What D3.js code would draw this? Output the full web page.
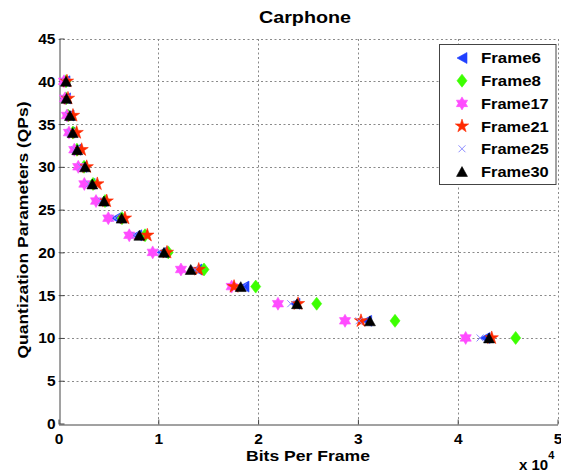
<!DOCTYPE html>
<html><head><meta charset="utf-8">
<script src="https://cdn.jsdelivr.net/npm/d3@7"></script>
<style>
body{margin:0;background:#fff}
text{font-family:"Liberation Sans",Arial,Helvetica,sans-serif;font-weight:bold;fill:#000}
</style>
</head><body>
<svg id="c" width="561" height="474"></svg>
<script>
// ---- data ----
const qps = [40,38,36,34,32,30,28,26,24,22,20,18,16,14,12,10];
const frame6  = [650,700,1050,1150,1750,2350,3160,4360,5760,7840,10370,13880,18590,23690,30880,42740];
const frame8  = [750,750,950,1450,1850,2560,3460,4660,6360,8670,11000,14580,19760,25870,33720,45810];
const frame17 = [550,650,850,1050,1580,1980,2590,3760,4990,7090,9440,12270,17350,21990,28710,40800];
const frame21 = [850,950,1450,1820,2320,2830,3890,4830,6660,8900,10870,14050,17590,24000,30310,43410];
const frame25 = [600,650,1000,1150,1650,2250,3060,4260,5660,7670,10270,13680,18490,23270,30110,42240];
const frame30 = [750,800,1150,1420,1880,2660,3390,4560,6330,8100,10570,13250,18260,23900,31210,43140];
const seriesNames = ["Frame6","Frame8","Frame17","Frame21","Frame25","Frame30"];
const seriesValues = [frame6, frame8, frame17, frame21, frame25, frame30];
const xTicks = [0,10000,20000,30000,40000,50000];
const yTicks = [0,5,10,15,20,25,30,35,40,45];
const titleText = "Carphone";
const xLabel = "Bits Per Frame";
const yLabel = "Quantization Parameters (QPs)";

// ---- styles ----
const colors = ["#2040ff","#3cff00","#ff4cff","#ff2a00","#8c8cff","#000000"];
function poly(ctx, pts){ctx.moveTo(pts[0][0],pts[0][1]);for(let i=1;i<pts.length;i++)ctx.lineTo(pts[i][0],pts[i][1]);ctx.closePath();}
const symLeft = {draw(ctx,s){const r=Math.sqrt(s);poly(ctx,[[-r,0],[r,-r*1.1],[r,r*1.1]]);}};
const symDiamond = {draw(ctx,s){const r=Math.sqrt(s);poly(ctx,[[0,-r*1.3],[r,0],[0,r*1.3],[-r,0]]);}};
function starPts(n,R,ri){const p=[];for(let k=0;k<2*n;k++){const a=-Math.PI/2+k*Math.PI/n;const rr=k%2?ri:R;p.push([rr*Math.cos(a),rr*Math.sin(a)]);}return p;}
const symHex = {draw(ctx,s){const R=Math.sqrt(s);poly(ctx,starPts(6,R,R/Math.sqrt(3)));}};
const symPent = {draw(ctx,s){const R=Math.sqrt(s);poly(ctx,starPts(5,R,R*0.382));}};
const symX = {draw(ctx,s){const r=Math.sqrt(s);ctx.moveTo(-r,-r);ctx.lineTo(r,r);ctx.moveTo(-r,r);ctx.lineTo(r,-r);}};
const symUp = {draw(ctx,s){const r=Math.sqrt(s);poly(ctx,[[0,-r*0.95],[r*1.05,r*0.95],[-r*1.05,r*0.95]]);}};
const symbols = [symLeft,symDiamond,symHex,symPent,symX,symUp];
const sizes = [25,25,42,49,12,27];
const filled = [true,true,true,true,false,true];

// ---- layout ----
const svg = d3.select("#c");
const x = d3.scaleLinear().domain([0,50000]).range([58.5,557.5]);
const y = d3.scaleLinear().domain([0,45]).range([423.5,38.5]);

// grid
const grid = svg.append("g").attr("stroke","#8a8a8a").attr("stroke-width",1).attr("stroke-dasharray","2,2.5");
grid.selectAll("line.gx").data(xTicks.filter(d=>d>0)).join("line")
  .attr("x1",d=>Math.round(x(d))+0.5).attr("x2",d=>Math.round(x(d))+0.5)
  .attr("y1",y(0)).attr("y2",y(45));
grid.selectAll("line.gy").data(yTicks.filter(d=>d>0)).join("line")
  .attr("y1",d=>Math.round(y(d))+0.5).attr("y2",d=>Math.round(y(d))+0.5)
  .attr("x1",x(0)).attr("x2",x(50000));

// axes
const xAxis = d3.axisBottom(x).tickValues(xTicks).tickFormat(d=>d/10000).tickSizeInner(-5).tickSizeOuter(0).tickPadding(8);
const yAxis = d3.axisLeft(y).tickValues(yTicks).tickSizeInner(-5).tickSizeOuter(0).tickPadding(4);
const gx = svg.append("g").attr("transform",`translate(0,${Math.round(y(0))+0.5})`).call(xAxis);
const gy = svg.append("g").attr("transform",`translate(${Math.round(x(0))+0.5},0)`).call(yAxis);
[gx,gy].forEach(g=>{
  g.select(".domain").attr("stroke","#444");
  g.selectAll(".tick line").attr("stroke","#444");
  g.selectAll(".tick text").attr("font-size",15.5).attr("font-family",null).attr("fill","#000");
  g.attr("font-family",null);
});

// markers
seriesValues.forEach((vals,i)=>{
  const gen = d3.symbol().type(symbols[i]).size(sizes[i]);
  svg.append("g").selectAll("path").data(qps.map((q,j)=>({q,v:vals[j]}))).join("path")
    .attr("transform",d=>`translate(${x(d.v)},${y(d.q)})`)
    .attr("d",gen())
    .attr("fill",filled[i]?colors[i]:"none")
    .attr("stroke",colors[i]).attr("stroke-width",filled[i]?0.6:1);
});

// title and labels
svg.append("text").attr("x",305).attr("y",23).attr("text-anchor","middle").attr("font-size",16)
  .attr("textLength",92).attr("lengthAdjust","spacingAndGlyphs").text(titleText);
svg.append("text").attr("x",308).attr("y",461).attr("text-anchor","middle").attr("font-size",15)
  .attr("textLength",124).attr("lengthAdjust","spacingAndGlyphs").text(xLabel);
svg.append("text").attr("transform","translate(27.5,230) rotate(-90)").attr("text-anchor","middle").attr("font-size",15.5)
  .attr("textLength",257).attr("lengthAdjust","spacingAndGlyphs").text(yLabel);
const mult = svg.append("text").attr("x",519).attr("y",470).attr("font-size",15);
mult.append("tspan").text("x 10");
mult.append("tspan").attr("font-size",11).attr("dy",-11).text("4");

// legend
const lg = svg.append("g");
lg.append("rect").attr("x",439.5).attr("y",44.5).attr("width",116.5).attr("height",140)
  .attr("fill","#fff").attr("stroke","#444").attr("stroke-width",1);
seriesNames.forEach((name,i)=>{
  const yy = 58 + i*22.7;
  const gen = d3.symbol().type(symbols[i]).size(sizes[i]);
  lg.append("path").attr("transform",`translate(462,${yy})`).attr("d",gen())
    .attr("fill",filled[i]?colors[i]:"none").attr("stroke",colors[i]).attr("stroke-width",filled[i]?0.6:1);
  lg.append("text").attr("x",481).attr("y",yy).attr("dy","0.36em").attr("font-size",15)
    .attr("textLength",name.length>6?67.7:60).attr("lengthAdjust","spacingAndGlyphs").text(name);
});
</script>
</body></html>
